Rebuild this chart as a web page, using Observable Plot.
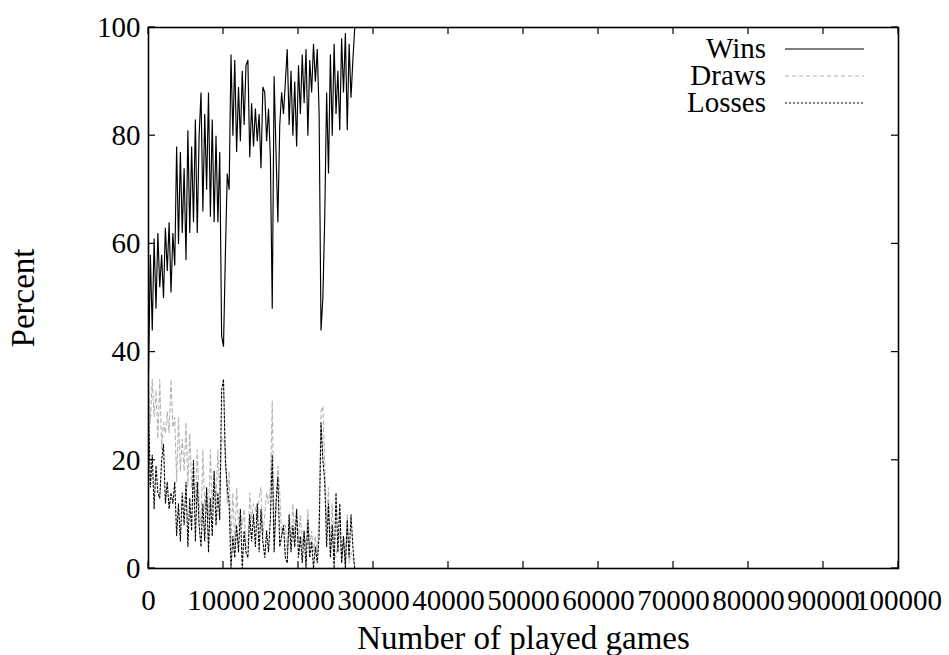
<!DOCTYPE html>
<html>
<head>
<meta charset="utf-8">
<script src="https://cdn.jsdelivr.net/npm/d3@7"></script>
<script src="https://cdn.jsdelivr.net/npm/@observablehq/plot@0.6"></script>
<style>
  html, body { margin: 0; padding: 0; background: #fff; }
</style>
</head>
<body>
<div id="chart"></div>
<script>
// ---- data ----
const games = [
  0, 250, 500, 750, 1000, 1250, 1500, 1750, 2000, 2250,
  2500, 2750, 3000, 3250, 3500, 3750, 4000, 4250, 4500, 4750,
  5000, 5250, 5500, 5750, 6000, 6250, 6500, 6750, 7000, 7250,
  7500, 7750, 8000, 8250, 8500, 8750, 9000, 9250, 9500, 9750,
  10000, 10250, 10500, 10750, 11000, 11250, 11500, 11750, 12000, 12250,
  12500, 12750, 13000, 13250, 13500, 13750, 14000, 14250, 14500, 14750,
  15000, 15250, 15500, 15750, 16000, 16250, 16500, 16750, 17000, 17250,
  17500, 17750, 18000, 18250, 18500, 18750, 19000, 19250, 19500, 19750,
  20000, 20250, 20500, 20750, 21000, 21250, 21500, 21750, 22000, 22250,
  22500, 22750, 23000, 23250, 23500, 23750, 24000, 24250, 24500, 24750,
  25000, 25250, 25500, 25750, 26000, 26250, 26500, 26750, 27000, 27250,
  27500
];
const wins = [
  36, 58, 44, 61, 48, 62, 52, 58, 50, 63,
  55, 64, 51, 62, 56, 78, 60, 77, 62, 74,
  57, 81, 62, 78, 64, 83, 62, 80, 88, 66,
  84, 70, 88, 65, 83, 64, 80, 64, 77, 43,
  41, 58, 73, 70, 95, 80, 94, 77, 89, 79,
  92, 82, 93, 94, 76, 86, 78, 85, 79, 84,
  74, 89, 88, 79, 85, 76, 48, 91, 77, 64,
  82, 88, 84, 90, 96, 82, 92, 80, 90, 78,
  93, 84, 95, 86, 96, 80, 94, 88, 97, 90,
  96, 84, 44, 50, 65, 88, 73, 95, 80, 97,
  84, 92, 81, 98, 88, 99, 81, 97, 87, 94,
  100
];
const draws = [
  34, 27, 35, 28, 33, 24, 35, 22, 27, 25,
  29, 25, 35, 26, 28, 16, 28, 18, 24, 18,
  27, 15, 25, 15, 16, 12, 22, 12, 8, 22,
  11, 15, 9, 22, 11, 18, 12, 22, 14, 24,
  24, 22, 12, 18, 5, 14, 4, 15, 8, 10,
  8, 11, 4, 4, 14, 9, 12, 11, 9, 13,
  15, 6, 10, 14, 12, 15, 31, 6, 11, 19,
  14, 6, 8, 8, 3, 8, 5, 12, 6, 11,
  5, 10, 4, 7, 4, 11, 4, 7, 3, 6,
  3, 10, 29, 30, 19, 8, 15, 3, 12, 3,
  2, 5, 7, 1, 6, 1, 10, 1, 3, 2,
  0
];
const losses = [
  30, 15, 21, 11, 19, 14, 13, 20, 23, 12,
  16, 11, 14, 12, 16, 6, 12, 5, 14, 8,
  16, 4, 13, 7, 20, 5, 16, 8, 4, 12,
  5, 15, 3, 13, 6, 18, 8, 14, 9, 33,
  35, 20, 15, 12, 0, 6, 2, 8, 3, 11,
  0, 7, 3, 2, 10, 5, 10, 4, 12, 3,
  11, 5, 2, 7, 3, 9, 21, 3, 12, 17,
  4, 6, 8, 2, 1, 10, 3, 8, 4, 11,
  2, 6, 1, 7, 0, 9, 2, 5, 0, 4,
  1, 6, 27, 20, 16, 4, 12, 2, 8, 0,
  14, 3, 12, 1, 6, 0, 9, 2, 10, 4,
  0
];
const seriesNames = ["Wins", "Draws", "Losses"];
const xTicks = [0, 10000, 20000, 30000, 40000, 50000, 60000, 70000, 80000, 90000, 100000];
const yTicks = [0, 20, 40, 60, 80, 100];

// ---- styles ----
const seriesStyle = {
  Wins:   {stroke: "#000000", dash: null,  width: 1.15},
  Draws:  {stroke: "#b4b4b4", dash: "4,3", width: 1.1},
  Losses: {stroke: "#000000", dash: "2,2", width: 1.1}
};
const FONT = "'Liberation Serif', 'Times New Roman', serif";
const TICK_SIZE = 29;   // tick label font size
const TITLE_SIZE = 33;  // axis titles
const KEY_SIZE = 29;    // legend text

// table built from the named arrays
const seriesValues = {Wins: wins, Draws: draws, Losses: losses};
const rows = seriesNames.map(name =>
  games.map((g, i) => ({games: g, value: seriesValues[name][i], series: name}))
);

// inward ticks on all four sides of the frame, placed with the plot's scales
function frameTicks(index, scales, values, dim) {
  const g = d3.create("svg:g").attr("stroke", "#000").attr("stroke-width", 1.2);
  const L = dim.marginLeft, R = dim.width - dim.marginRight;
  const T = dim.marginTop, B = dim.height - dim.marginBottom;
  const len = 7;
  for (const t of xTicks) {
    const px = scales.x(t);
    g.append("line").attr("x1", px).attr("x2", px).attr("y1", B).attr("y2", B - len);
    g.append("line").attr("x1", px).attr("x2", px).attr("y1", T).attr("y2", T + len);
  }
  for (const t of yTicks) {
    const py = scales.y(t);
    g.append("line").attr("x1", L).attr("x2", L + len).attr("y1", py).attr("y2", py);
    g.append("line").attr("x1", R).attr("x2", R - len).attr("y1", py).attr("y2", py);
  }
  return g.node();
}

// gnuplot-style key inside the top-right corner
function legend(index, scales, values, dim) {
  const g = d3.create("svg:g");
  const R = dim.width - dim.marginRight;
  const T = dim.marginTop;
  seriesNames.forEach((name, i) => {
    const y = T + 22 + i * 27;
    const s = seriesStyle[name];
    g.append("text")
      .attr("x", R - 132).attr("y", y)
      .attr("text-anchor", "end").attr("dy", "0.32em")
      .attr("fill", "#000")
      .style("font-family", FONT).style("font-size", KEY_SIZE + "px")
      .text(name);
    g.append("line")
      .attr("x1", R - 113).attr("x2", R - 34)
      .attr("y1", y).attr("y2", y)
      .attr("stroke", s.stroke).attr("stroke-width", s.width)
      .attr("stroke-dasharray", s.dash);
  });
  return g.node();
}

const chart = Plot.plot({
  width: 949,
  height: 655,
  marginLeft: 148,
  marginRight: 51,
  marginTop: 27,
  marginBottom: 87,
  style: {fontFamily: FONT, fontSize: TICK_SIZE + "px", background: "#fff", color: "#000", overflow: "visible"},
  x: {domain: [0, 100000]},
  y: {domain: [0, 100]},
  marks: [
    ...seriesNames.map((name, k) => Plot.line(rows[k], {
      x: "games", y: "value",
      stroke: seriesStyle[name].stroke,
      strokeWidth: seriesStyle[name].width,
      strokeDasharray: seriesStyle[name].dash,
      strokeLinejoin: "miter"
    })),
    Plot.axisX({
      ticks: xTicks, tickSize: 0, tickPadding: 21, tickFormat: "d", fontSize: TICK_SIZE,
      label: null
    }),
    Plot.axisX({
      ticks: [], tickSize: 0, fontSize: TITLE_SIZE,
      label: "Number of played games", labelAnchor: "center", labelOffset: 80, labelArrow: "none"
    }),
    Plot.axisY({
      ticks: yTicks, tickSize: 0, tickPadding: 8, tickFormat: "d", fontSize: TICK_SIZE,
      label: null
    }),
    Plot.axisY({
      ticks: [], tickSize: 0, fontSize: TITLE_SIZE,
      label: "Percent", labelAnchor: "center", labelOffset: 138, labelArrow: "none"
    }),
    Plot.frame({stroke: "#000", strokeWidth: 1.6}),
    frameTicks,
    legend
  ]
});

document.getElementById("chart").appendChild(chart);
</script>
</body>
</html>
